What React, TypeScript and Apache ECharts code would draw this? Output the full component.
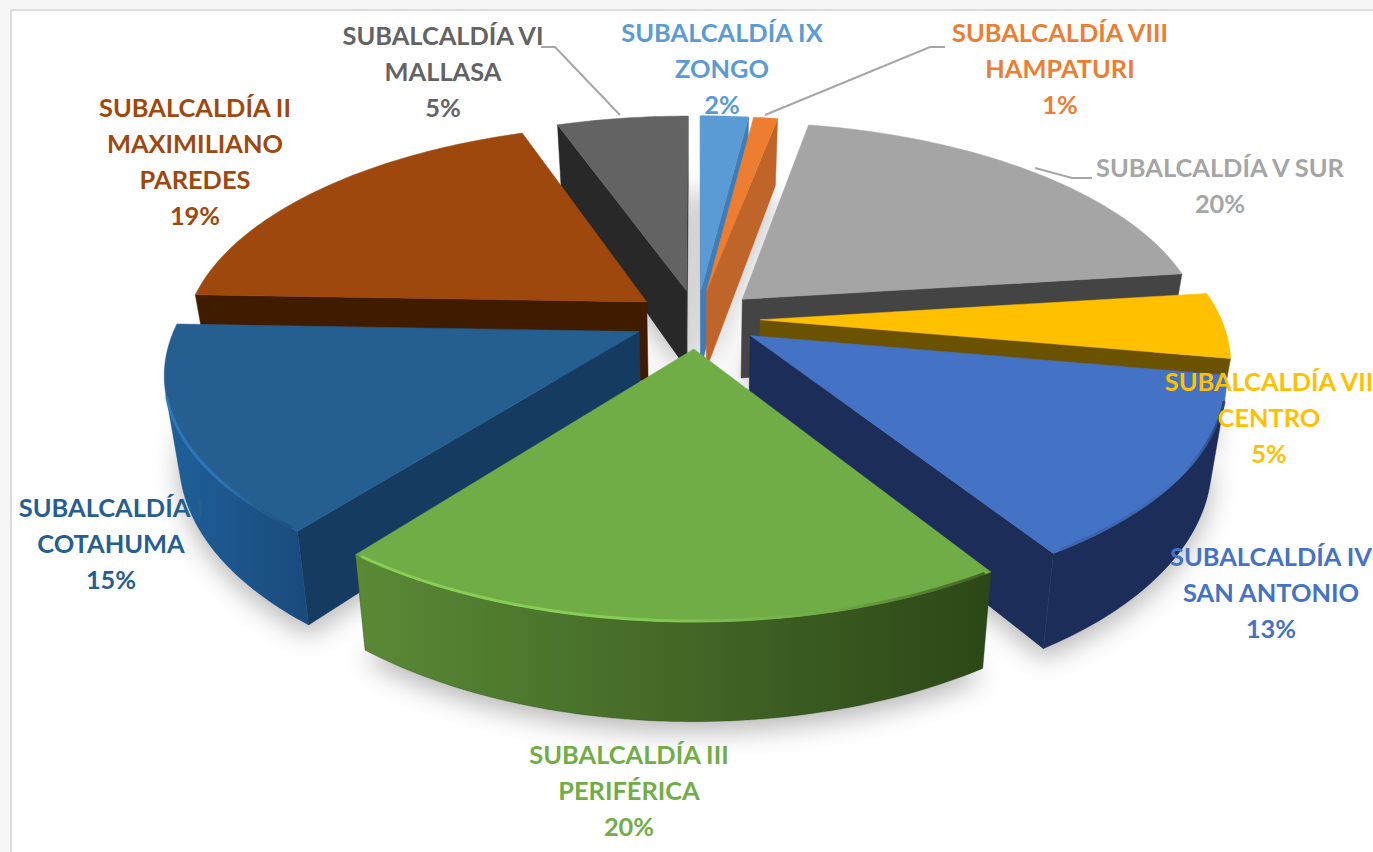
import React, { useEffect, useRef } from "react";
import * as echarts from "echarts";

const names = ["SUBALCALDÍA IX\nZONGO", "SUBALCALDÍA VIII\nHAMPATURI", "SUBALCALDÍA V SUR", "SUBALCALDÍA VII\nCENTRO", "SUBALCALDÍA IV\nSAN ANTONIO", "SUBALCALDÍA III\nPERIFÉRICA", "SUBALCALDÍA I\nCOTAHUMA", "SUBALCALDÍA II\nMAXIMILIANO\nPAREDES", "SUBALCALDÍA VI\nMALLASA"];
const shares = [2, 1, 20, 4.8, 13.2, 19.55, 15, 19, 5.45];

const topColors = ["#5b9bd5", "#ed7d31", "#a5a5a5", "#ffc000", "#4472c4", "#70ad47", "#255e91", "#9e480e", "#636363"];
const wallColors = ["#3f7cb8", "#c0652a", "#444444", "#6b5200", "#1b2d58", "#2e4a17", "#153c60", "#3f1c00", "#282828"];
const outerLeft = ["#4a86c0", "#c0652a", "#555555", "#7a5d00", "#1b2d58", "#5a8a36", "#1f6099", "#4a2200", "#3a3a3a"];
const outerRight = ["#3f7cb8", "#c0652a", "#444444", "#6b5200", "#1b2d58", "#2c4717", "#1a4a7c", "#3f1c00", "#282828"];
const rimColors = ["", "", "", "#a88000", "#3a5fa6", "#93dc5c", "#2f80c8", "", ""];
const labelCenters = [[722, 14], [1060, 14], [1220, 149], [1269, 363], [1271, 538], [629, 736], [111, 489], [195, 89], [443, 17]];

const PROJ = { cx: 697, cy: 319, a: 461, b: 214, p: 0.1734, gap: 0.137, height: 80, taper: 0.028 };
const rad = (d: number) => (d * Math.PI) / 180;

type Pt = [number, number];
function project(X: number, Y: number, depth: number): Pt {
  const s = 1 / (1 + PROJ.p * Y);
  const x = PROJ.a * X * s;
  const y = -PROJ.b * Y * s;
  return [PROJ.cx + x * (1 - PROJ.taper * depth), PROJ.cy + y + PROJ.height * s * depth];
}

const total = shares.reduce((a, b) => a + b, 0);
const spans = shares.map((v, i) => {
  const before = shares.slice(0, i).reduce((a, b) => a + b, 0);
  return { start: (before / total) * 360, end: ((before + v) / total) * 360 };
});
const mid = (i: number) => (spans[i].start + spans[i].end) / 2;
const drawOrder = shares.map((_, i) => i).sort((m, n) => Math.cos(rad(mid(n))) - Math.cos(rad(mid(m))));

function apexOf(i: number) {
  return [PROJ.gap * Math.sin(rad(mid(i))), PROJ.gap * Math.cos(rad(mid(i)))];
}
function arcOf(i: number, depth: number): Pt[] {
  const [ax, ay] = apexOf(i);
  const n = Math.max(6, Math.ceil(spans[i].end - spans[i].start));
  const out: Pt[] = [];
  for (let k = 0; k <= n; k++) {
    const t = rad(spans[i].start + ((spans[i].end - spans[i].start) * k) / n);
    out.push(project(ax + Math.sin(t), ay + Math.cos(t), depth));
  }
  return out;
}
function facesViewer(p: Pt, q: Pt, qb: Pt, pb: Pt) {
  const v = [p, q, qb, pb];
  let area = 0;
  for (let i = 0; i < 4; i++) {
    const a = v[i], b = v[(i + 1) % 4];
    area += a[0] * b[1] - b[0] * a[1];
  }
  return area < 0;
}

function renderShadow(params: any) {
  const i = drawOrder[params.dataIndex];
  const [ax, ay] = apexOf(i);
  const pts = [project(ax, ay, 1), ...arcOf(i, 1)];
  return {
    type: "polygon",
    shape: { points: pts },
    style: { fill: "#d6d6d6", shadowBlur: 26, shadowColor: "rgba(0,0,0,0.28)", shadowOffsetY: 10, shadowOffsetX: 0 },
  };
}

function renderSlice(params: any) {
  const i = drawOrder[params.dataIndex];
  const [ax, ay] = apexOf(i);
  const t = arcOf(i, 0);
  const bt = arcOf(i, 1);
  const apexT = project(ax, ay, 0);
  const apexB = project(ax, ay, 1);
  const children: any[] = [];
  const wall = { fill: wallColors[i], stroke: wallColors[i], lineWidth: 0.5 };
  if (facesViewer(apexT, t[0], bt[0], apexB)) {
    children.push({ type: "polygon", shape: { points: [apexT, t[0], bt[0], apexB] }, style: wall });
  }
  const L = t.length - 1;
  if (facesViewer(t[L], apexT, apexB, bt[L])) {
    children.push({ type: "polygon", shape: { points: [t[L], apexT, apexB, bt[L]] }, style: wall });
  }
  let from = -1, to = -1;
  for (let k = 0; k < L; k++) {
    if (facesViewer(t[k], t[k + 1], bt[k + 1], bt[k])) {
      if (from < 0) from = k;
      to = k + 1;
    }
  }
  if (from >= 0) {
    const topRun = t.slice(from, to + 1);
    const botRun = bt.slice(from, to + 1).reverse();
    const grad = new echarts.graphic.LinearGradient(0, 0, 1, 0, [
      { offset: 0, color: outerLeft[i] },
      { offset: 1, color: outerRight[i] },
    ]);
    children.push({ type: "polygon", shape: { points: [...topRun, ...botRun] }, style: { fill: grad, stroke: outerRight[i], lineWidth: 0.4 } });
  }
  children.push({
    type: "polygon",
    shape: { points: [apexT, ...t] },
    style: { fill: topColors[i], stroke: topColors[i], lineWidth: 0.5 },
  });
  if (from >= 0 && rimColors[i]) {
    const g = new echarts.graphic.LinearGradient(0, 0, 1, 0, [
      { offset: 0, color: rimColors[i] },
      { offset: 0.4, color: rimColors[i] },
      { offset: 0.75, color: topColors[i] },
      { offset: 1, color: outerRight[i] },
    ]);
    const n = to - from;
    const run = t.slice(from + (n > 8 ? 1 : 0), to + 1 - (n > 8 ? 1 : 0));
    children.push({
      type: "polyline",
      shape: { points: run.map((p) => [p[0], p[1] - 1] as Pt) },
      style: { fill: "none", stroke: g, lineWidth: 3, opacity: 0.7, lineCap: "round" },
    });
  }
  return { type: "group", children };
}

const leaders: Pt[][] = [
  [[945, 47], [930, 47], [765, 115]],
  [[541, 47], [555, 47], [620, 115]],
  [[1092, 178], [1072, 178], [1035, 168]],
];

export default function App() {
  const ref = useRef<HTMLDivElement>(null);
  useEffect(() => {
    document.body.style.margin = "0";
    document.body.style.overflow = "hidden";
    const chart = echarts.init(ref.current!, null, { renderer: "svg" });
    const seriesData = drawOrder.map((i) => ({ name: names[i].split("\n")[0], value: shares[i] }));
    chart.setOption({
      animation: false,
      backgroundColor: "#f6f6f6",
      series: [
        { type: "custom", coordinateSystem: "none", z: 1, renderItem: renderShadow, data: seriesData, silent: true },
        { type: "custom", coordinateSystem: "none", z: 2, renderItem: renderSlice, data: seriesData, silent: true },
      ],
      graphic: [
        { type: "rect", z: -5, shape: { x: 11, y: 10, width: 1500, height: 1000 }, style: { fill: "#ffffff", stroke: "#dcdcdc", lineWidth: 2 } },
        ...leaders.map((pts) => ({ type: "polyline", z: 50, shape: { points: pts }, style: { fill: "none", stroke: "#a6a6a6", lineWidth: 2 } })),
        ...names.map((n, i) => ({
          type: "text",
          z: 60,
          x: labelCenters[i][0],
          y: labelCenters[i][1],
          style: {
            text: `${n}\n${Math.round(shares[i])}%`,
            fill: topColors[i],
            font: 'bold 25.4px Lato, "Noto Sans", sans-serif',
            lineHeight: 36,
            textAlign: "center",
            textVerticalAlign: "top",
          },
        })),
      ],
    });
    return () => chart.dispose();
  }, []);
  return <div ref={ref} style={{ position: "fixed", left: 0, top: 0, width: 1373, height: 852 }} />;
}
